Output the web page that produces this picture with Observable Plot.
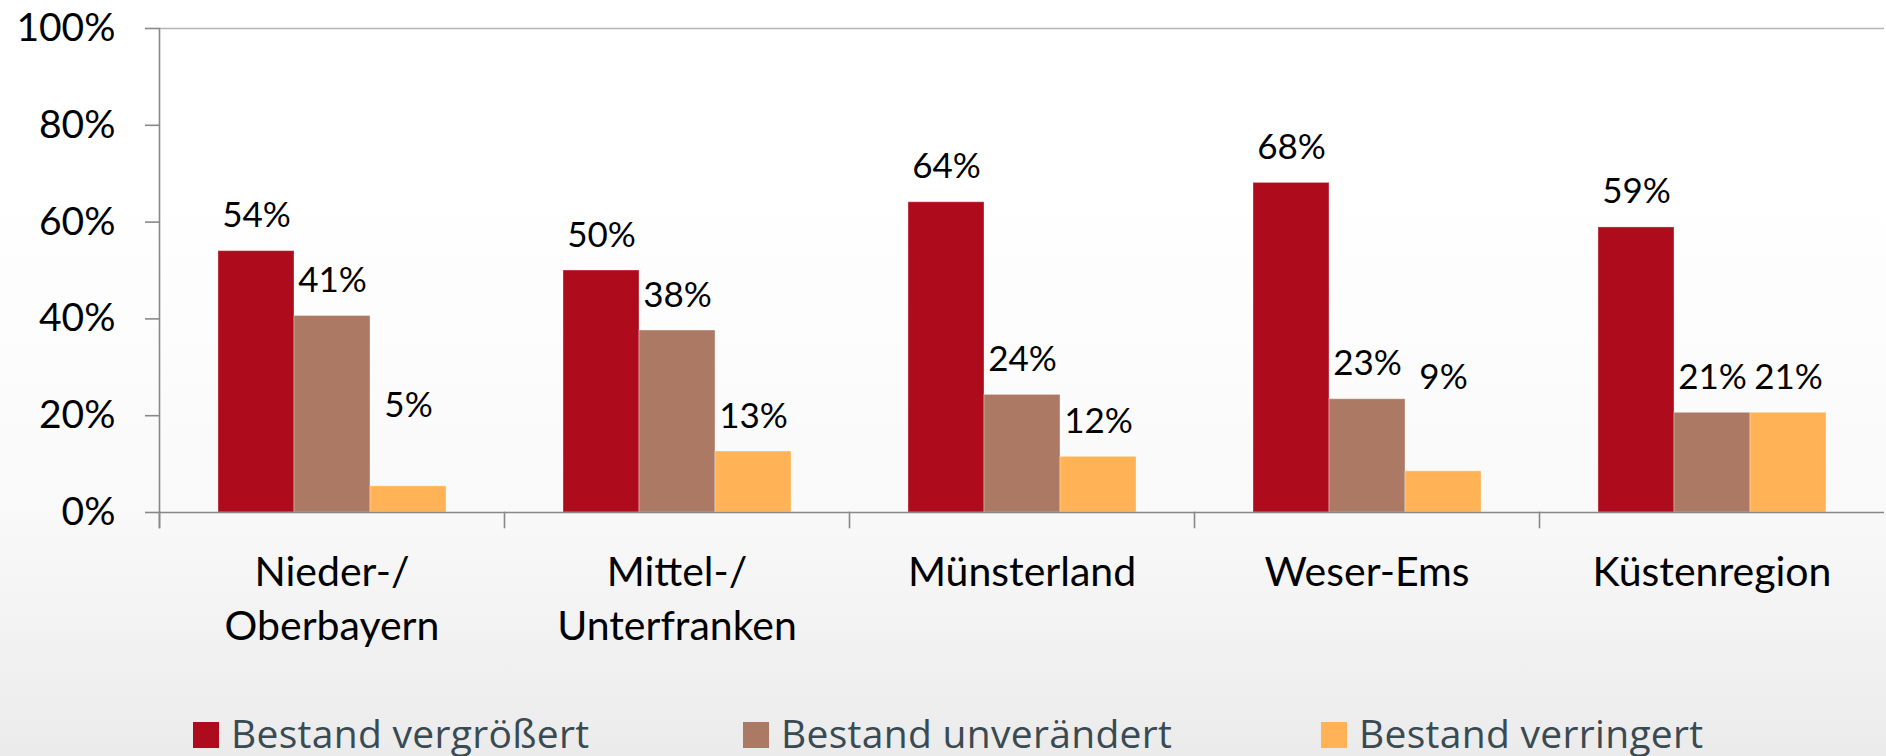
<!DOCTYPE html>
<html>
<head>
<meta charset="utf-8">
<script src="https://cdn.jsdelivr.net/npm/d3@7"></script>
<script src="https://cdn.jsdelivr.net/npm/@observablehq/plot@0.6"></script>
<style>
  html, body { margin: 0; padding: 0; }
  body {
    width: 1886px; height: 756px; overflow: hidden;
    background: linear-gradient(to bottom, #ffffff 0px, #ffffff 180px, #f9f9f9 512px, #ebebeb 756px);
    font-family: Lato, "Noto Sans", sans-serif;
  }
  #chart svg { display: block; }
  #legend { position: relative; width: 1886px; height: 66px; }
  #legend .sw { position: absolute; top: 32px; width: 26px; height: 26px; }
  #legend .lb { position: absolute; top: 23px; font-family: "Open Sans", Lato, sans-serif; font-size: 39px; line-height: 39px; letter-spacing: 0.3px; color: #3a4a52; white-space: nowrap; }
</style>
</head>
<body>
<div id="chart"></div>
<div id="legend"></div>
<script>
const regions = ["Nieder-/\nOberbayern", "Mittel-/\nUnterfranken", "Münsterland", "Weser-Ems", "Küstenregion"];
const series = ["Bestand vergrößert", "Bestand unverändert", "Bestand verringert"];
const vergroessert = [54.0, 50.0, 64.1, 68.1, 58.9];
const unveraendert = [40.6, 37.6, 24.3, 23.4, 20.6];
const verringert   = [5.4, 12.6, 11.5, 8.5, 20.6];
const colors = ["#ae0b1c", "#ac7a64", "#ffb256"];
const yTicks = [0, 20, 40, 60, 80, 100];
// data labels that were moved up by hand in the original (anchor value in %)
const labelAnchorVerringert = {"Nieder-/\nOberbayern": 14.7, "Weser-Ems": 20.6};

const seriesValues = [vergroessert, unveraendert, verringert];
const data = [];
regions.forEach((r, i) => {
  series.forEach((s, j) => {
    const v = seriesValues[j][i];
    let la = v;
    if (j === 2 && labelAnchorVerringert[r] !== undefined) la = labelAnchorVerringert[r];
    data.push({region: r, series: s, value: v, labelAt: la});
  });
});

const W = 1886, H = 690, mT = 28, mB = 178, mL = 157, mR = 0;
const innerH = H - mT - mB;

const chart = Plot.plot({
  width: W, height: H,
  marginLeft: mL, marginRight: mR, marginTop: mT, marginBottom: mB,
  style: {fontFamily: "Lato, 'Noto Sans', sans-serif", background: "transparent", overflow: "visible", color: "black"},
  fx: {domain: regions, padding: 0, axis: null, label: null},
  x: {domain: series, paddingInner: 0, paddingOuter: 0.755, axis: null, label: null},
  y: {domain: [0, 100], axis: null, label: null},
  color: {domain: series, range: colors},
  marks: [
    Plot.ruleY([100], {stroke: "#b4b4b4", strokeWidth: 1.6}),
    Plot.barY(data, {fx: "region", x: "series", y: "value", fill: "series", stroke: "#ffffff", strokeOpacity: 0.35, strokeWidth: 1}),
    Plot.ruleY([0], {stroke: "#888888", strokeWidth: 1.6}),
    Plot.frame({anchor: "left", facetAnchor: "left", insetBottom: -15, stroke: "#888888", strokeWidth: 1.6}),
    Plot.frame({anchor: "left", insetTop: innerH, insetBottom: -15, stroke: "#888888", strokeWidth: 1.6}),
    Plot.axisY({ticks: yTicks, tickSize: 14, tickPadding: 30, tickFormat: d => d + "%", fontSize: 39, stroke: "#888888", strokeWidth: 1.6, fill: "black", label: null}),
    Plot.text(data, {fx: "region", x: "series", y: "labelAt", text: d => Math.round(d.value) + "%", dy: -24, lineAnchor: "bottom", fontSize: 35, fill: "black"}),
    Plot.text(regions, {fx: d => d, text: d => d, frameAnchor: "bottom", lineAnchor: "top", dy: 34, fontSize: 41, lineHeight: 1.34, fill: "black"})
  ]
});
document.getElementById("chart").appendChild(chart);

const legendLeft = [193, 743, 1321];
const legend = document.getElementById("legend");
series.forEach((s, i) => {
  const sw = document.createElement("div");
  sw.className = "sw";
  sw.style.left = legendLeft[i] + "px";
  sw.style.background = colors[i];
  legend.appendChild(sw);
  const lb = document.createElement("div");
  lb.className = "lb";
  lb.style.left = (legendLeft[i] + 38) + "px";
  lb.textContent = s;
  legend.appendChild(lb);
});
</script>
</body>
</html>
